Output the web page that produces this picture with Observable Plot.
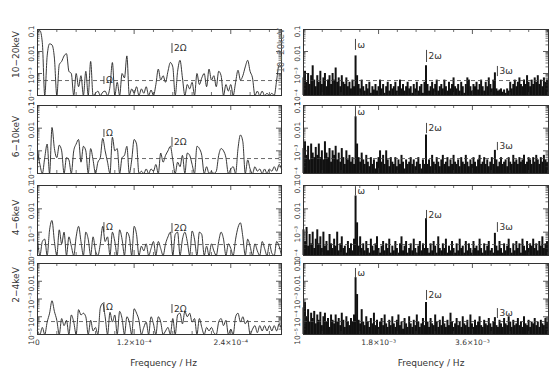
<!DOCTYPE html>
<html><head><meta charset="utf-8">
<script src="https://cdn.jsdelivr.net/npm/d3@7"></script>
<script src="https://cdn.jsdelivr.net/npm/@observablehq/plot@0.6"></script>
<style>
html,body{margin:0;padding:0;background:#fff;}
#chart{position:relative;width:550px;height:368px;overflow:hidden;font-family:"DejaVu Sans",sans-serif;}
#chart svg{position:absolute;overflow:visible;}
</style></head><body><div id="chart"></div>
<script>
// ---- energy bands (rows) ----
const bands = ["10−20keV", "6−10keV", "4−6keV", "2−4keV"];

// ---- low-frequency periodograms (left column), log10(power), step 3e-6 Hz from 0 ----
const dfLow = 3e-6;
const low_10_20 = [-1.15,-1.05,-1.6,-4.5,-2.2,-1.65,-1.7,-2.3,-4.5,-2.6,
 -2.45,-2.2,-2.1,-2.9,-3.0,-4.5,-3.0,-3.6,-3.1,-4.5,
 -2.9,-4.5,-2.45,-4.5,-3.9,-3.8,-4.3,-3.85,-3.8,-4.2,
 -3.6,-2.5,-4.5,-3.4,-4.5,-3.0,-3.2,-2.2,-4.5,-3.7,
 -3.9,-3.6,-4.3,-3.7,-3.9,-3.6,-4.2,-3.75,-4.0,-3.5,
 -2.8,-3.3,-3.1,-3.4,-2.9,-2.5,-2.7,-4.5,-2.9,-2.4,
 -3.2,-4.5,-3.5,-3.7,-3.4,-4.2,-3.0,-3.5,-3.2,-3.0,
 -3.6,-2.8,-3.3,-3.1,-3.6,-2.9,-3.1,-4.5,-3.5,-3.8,
 -3.5,-4.1,-3.4,-2.85,-3.3,-3.1,-2.7,-2.4,-2.9,-3.2,
 -4.5,-3.8,-4.2,-3.8,-4.1,-3.9,-4.2,-3.9,-4.3,-3.3,
 -2.6,-2.7];
const low_6_10 = [-3.0,-3.6,-4.5,-3.3,-2.7,-4.5,-1.97,-2.9,-3.3,-2.75,
 -3.0,-4.5,-3.3,-3.4,-4.5,-3.0,-2.7,-2.5,-3.5,-2.8,
 -3.0,-4.5,-2.9,-3.4,-4.5,-3.5,-3.3,-2.45,-3.0,-3.5,
 -4.5,-2.4,-3.0,-2.9,-4.5,-3.3,-3.2,-2.8,-4.5,-3.4,
 -2.5,-2.7,-4.5,-3.9,-4.1,-3.8,-4.0,-3.8,-3.9,-3.6,
 -4.2,-3.1,-3.5,-3.2,-3.0,-2.8,-3.4,-4.5,-3.5,-3.7,
 -3.2,-4.0,-3.1,-3.2,-3.6,-4.5,-2.8,-2.9,-3.2,-4.5,
 -3.7,-4.5,-3.9,-4.3,-3.9,-3.2,-2.9,-3.0,-3.3,-4.5,
 -3.8,-3.7,-4.2,-2.9,-2.3,-2.6,-4.5,-3.4,-3.8,-4.0,
 -3.7,-3.9,-3.8,-4.0,-3.8,-4.1,-3.8,-3.9,-3.7,-3.9,
 -3.6,-3.8];
const low_4_6 = [-3.3,-4.5,-3.4,-3.3,-4.5,-2.9,-2.5,-3.4,-4.5,-2.9,
 -3.5,-3.0,-4.5,-3.2,-3.6,-4.5,-3.2,-2.75,-3.4,-4.5,
 -3.0,-3.3,-4.5,-3.2,-3.8,-4.5,-3.5,-2.75,-3.4,-3.2,
 -4.5,-3.0,-3.4,-4.5,-2.9,-3.3,-4.5,-3.0,-3.2,-4.5,
 -2.75,-3.1,-4.5,-3.6,-3.8,-3.5,-4.5,-3.7,-3.4,-4.5,
 -3.4,-3.7,-4.5,-3.5,-3.2,-3.0,-4.5,-3.1,-3.0,-4.5,
 -3.3,-3.0,-3.4,-4.5,-2.95,-3.3,-4.5,-3.0,-3.1,-4.5,
 -3.6,-4.5,-3.5,-3.8,-4.5,-3.4,-3.0,-3.3,-4.5,-3.5,
 -3.7,-4.5,-3.3,-2.8,-2.6,-3.2,-4.5,-3.3,-3.6,-4.5,
 -3.5,-3.8,-4.5,-3.4,-3.7,-4.5,-3.5,-3.9,-4.5,-3.4,
 -3.6,-4.5];
const low_2_4 = [-4.8,-5.5,-4.6,-5.5,-4.3,-3.8,-3.1,-3.7,-4.2,-5.5,
 -4.1,-4.5,-4.2,-5.5,-3.9,-4.3,-5.5,-3.6,-3.9,-3.8,
 -4.0,-5.5,-4.2,-4.8,-4.6,-5.5,-3.5,-3.25,-4.0,-5.5,
 -3.75,-4.3,-3.9,-5.5,-3.7,-4.1,-5.5,-4.0,-4.3,-5.5,
 -3.55,-3.8,-4.2,-5.5,-4.6,-4.3,-5.5,-4.0,-4.4,-5.5,
 -4.0,-4.3,-5.5,-4.8,-4.6,-5.5,-4.1,-5.5,-3.9,-3.8,
 -4.4,-3.7,-4.0,-3.8,-4.3,-4.1,-5.5,-4.1,-4.6,-5.5,
 -4.6,-4.8,-4.6,-4.9,-5.5,-4.3,-4.1,-4.5,-4.2,-5.5,
 -4.7,-5.5,-4.0,-3.8,-4.3,-4.0,-4.4,-4.2,-5.5,-4.7,
 -4.5,-4.9,-4.5,-4.8,-4.5,-4.8,-4.5,-4.8,-4.5,-4.8,
 -4.4,-4.7];

// ---- high-frequency periodograms (right column), log10(power), step 2.9375e-5 Hz from 3.6e-4 ----
const f0High = 3.6e-4, dfHigh = 2.9375e-5;
const high_10_20 = [-3.2,-2.9,-3.4,-3.0,-3.5,-3.1,-2.65,-3.3,-3.6,-3.1,
 -3.4,-2.9,-3.5,-3.2,-3.0,-3.6,-3.3,-3.1,-3.5,-3.0,
 -3.3,-2.75,-3.4,-3.2,-3.6,-3.1,-3.4,-3.5,-3.2,-3.6,
 -3.4,-3.7,-3.3,-3.6,-2.2,-3.1,-3.5,-3.7,-3.3,-3.6,
 -3.8,-3.5,-3.7,-3.4,-3.9,-3.6,-3.75,-3.5,-3.8,-3.6,
 -3.3,-3.7,-3.5,-3.9,-3.6,-3.4,-3.8,-3.5,-3.7,-3.6,
 -3.4,-3.8,-3.6,-3.3,-3.7,-3.5,-3.8,-3.6,-3.4,-3.7,
 -3.6,-3.9,-3.5,-3.7,-3.4,-3.8,-3.6,-3.5,-3.9,-3.4,
 -2.65,-3.5,-3.8,-3.6,-3.4,-3.7,-3.5,-3.3,-3.8,-3.6,
 -3.5,-3.7,-3.3,-3.6,-3.8,-3.4,-3.7,-3.5,-3.2,-3.6,
 -3.7,-3.5,-3.8,-3.4,-3.6,-3.9,-3.5,-3.2,-3.3,-3.6,
 -3.8,-3.5,-3.6,-3.4,-3.75,-3.5,-3.3,-3.6,-3.8,-3.4,
 -3.6,-3.2,-3.5,-3.7,-3.3,-2.97,-3.7,-3.8,-3.75,-3.7,
 -3.85,-3.75,-3.9,-3.7,-3.8,-3.4,-3.7,-3.5,-3.3,-3.6,
 -3.4,-3.2,-3.5,-3.6,-3.3,-3.5,-3.1,-3.4,-3.6,-3.3,
 -3.5,-3.2,-3.4,-3.1,-3.5,-3.3,-3.6,-3.2,-3.4,-3.3];
const high_6_10 = [-2.9,-2.6,-3.2,-2.8,-3.4,-2.7,-3.1,-3.3,-2.85,-3.2,
 -2.7,-3.3,-3.0,-3.4,-2.6,-3.1,-3.3,-2.9,-3.5,-3.0,
 -3.2,-2.8,-3.4,-3.1,-3.5,-2.9,-3.3,-3.6,-3.0,-3.4,
 -3.2,-3.5,-3.3,-3.6,-1.5,-2.7,-3.3,-3.5,-3.1,-3.4,
 -3.6,-3.2,-3.5,-3.7,-3.3,-3.6,-3.4,-3.8,-3.5,-3.3,
 -3.0,-3.5,-3.2,-3.6,-3.0,-3.4,-3.7,-3.3,-3.5,-3.6,
 -3.3,-3.7,-3.4,-3.6,-3.2,-3.5,-3.8,-3.4,-3.6,-3.5,
 -3.3,-3.6,-3.4,-3.7,-3.5,-3.3,-3.6,-3.8,-3.4,-3.6,
 -2.3,-3.6,-3.4,-3.7,-3.2,-3.5,-3.6,-3.3,-3.5,-3.7,
 -3.4,-3.2,-3.6,-3.5,-3.3,-3.7,-3.4,-3.6,-3.2,-3.5,
 -3.6,-3.4,-3.7,-3.3,-3.5,-3.6,-3.2,-3.5,-3.7,-3.4,
 -3.6,-3.3,-3.5,-3.7,-3.4,-3.2,-3.6,-3.5,-3.3,-3.6,
 -3.4,-3.7,-3.5,-3.3,-3.6,-2.98,-3.4,-3.7,-3.5,-3.3,
 -3.6,-3.5,-3.4,-3.7,-3.3,-3.5,-3.6,-3.2,-3.5,-3.4,
 -3.6,-3.3,-3.5,-3.4,-3.2,-3.6,-3.5,-3.3,-3.4,-3.6,
 -3.3,-3.5,-3.2,-3.4,-3.6,-3.3,-3.5,-3.2,-3.4,-3.5];
const high_4_6 = [-2.9,-3.4,-2.8,-3.6,-3.1,-3.5,-3.0,-3.7,-3.3,-2.9,
 -3.5,-3.2,-3.7,-3.0,-3.6,-3.4,-3.8,-3.1,-3.5,-3.7,
 -3.3,-3.6,-3.0,-3.8,-3.5,-3.2,-3.7,-3.6,-3.9,-3.4,
 -3.7,-3.5,-3.8,-3.3,-1.45,-2.6,-3.6,-3.2,-3.7,-3.5,
 -3.8,-3.4,-3.7,-3.9,-3.3,-3.6,-3.8,-3.5,-3.2,-3.7,
 -3.9,-3.6,-3.4,-3.8,-3.5,-3.7,-3.3,-3.9,-3.6,-3.8,
 -3.4,-3.7,-3.9,-3.5,-3.2,-3.8,-3.6,-3.4,-3.9,-3.7,
 -3.5,-3.8,-3.3,-3.7,-3.9,-3.6,-3.4,-3.8,-3.5,-3.7,
 -2.42,-3.7,-3.9,-3.5,-3.8,-3.4,-3.6,-3.9,-3.2,-3.7,
 -3.8,-3.5,-3.7,-3.3,-3.9,-3.6,-3.8,-3.4,-3.7,-3.9,
 -3.5,-3.8,-3.3,-3.7,-3.6,-3.9,-3.4,-3.8,-3.5,-3.7,
 -3.9,-3.4,-3.7,-3.6,-3.8,-3.3,-3.7,-3.9,-3.5,-3.8,
 -3.6,-3.4,-3.8,-3.7,-3.9,-3.05,-3.6,-3.8,-3.4,-3.7,
 -3.9,-3.5,-3.8,-3.6,-3.3,-3.7,-3.9,-3.5,-3.8,-3.4,
 -3.7,-3.5,-3.9,-3.3,-3.6,-3.8,-3.4,-3.7,-3.5,-3.6,
 -3.3,-3.7,-3.5,-3.8,-3.4,-3.6,-3.2,-3.7,-3.5,-3.4];
const high_2_4 = [-3.5,-3.2,-4.0,-3.6,-4.3,-3.8,-4.1,-3.7,-4.4,-3.9,
 -4.2,-3.75,-4.5,-4.0,-3.8,-4.3,-4.1,-4.6,-3.9,-4.2,
 -4.4,-3.9,-4.3,-4.1,-4.5,-3.8,-4.2,-4.6,-4.0,-4.3,
 -4.5,-4.1,-4.3,-3.9,-1.8,-2.75,-4.2,-4.4,-3.6,-4.3,
 -4.5,-4.0,-4.3,-4.6,-4.1,-4.4,-3.8,-4.5,-4.2,-4.6,
 -4.3,-4.1,-4.5,-3.9,-4.4,-4.6,-4.2,-4.5,-4.0,-4.4,
 -4.6,-4.2,-3.9,-4.5,-4.3,-4.7,-4.1,-4.4,-4.6,-4.0,
 -4.4,-4.6,-4.2,-4.5,-3.9,-4.3,-4.6,-4.4,-4.1,-4.5,
 -3.2,-4.3,-4.6,-4.1,-4.4,-4.5,-3.9,-4.3,-4.6,-4.2,
 -4.5,-4.0,-4.4,-4.6,-4.2,-4.5,-3.8,-4.3,-4.6,-4.4,
 -4.1,-4.5,-4.3,-4.6,-4.0,-4.4,-4.5,-4.2,-4.6,-3.9,
 -4.4,-4.6,-4.2,-4.5,-4.3,-4.0,-4.5,-4.6,-4.2,-4.4,
 -4.5,-4.1,-4.4,-4.6,-4.3,-4.05,-4.5,-4.6,-4.2,-4.4,
 -4.6,-4.1,-4.4,-4.5,-4.0,-4.3,-4.6,-4.2,-4.5,-4.4,
 -4.1,-4.5,-4.3,-4.6,-4.0,-4.4,-4.5,-4.2,-4.6,-4.3,
 -4.4,-4.1,-4.5,-4.3,-4.6,-4.2,-4.4,-4.5,-4.1,-4.3];

const lowSeries = [low_10_20, low_6_10, low_4_6, low_2_4];
const highSeries = [high_10_20, high_6_10, high_4_6, high_2_4];

// dashed significance levels (log10 power) per band
const sigLevels = [-3.32, -3.34, -3.53, -4.27];

// y tick values / labels
const yTickVals3 = [1e-4, 1e-3, 0.01, 0.1];
const yTickLabels3 = ["10⁻⁴", "10⁻³", "0.01", "0.1"];
const yTickVals4 = [1e-5, 1e-4, 1e-3, 0.01, 0.1];
const yTickLabels4 = ["10⁻⁵", "10⁻⁴", "10⁻³", "0.01", "0.1"];

// x ticks
const xLowDomain = [0, 3.03e-4];
const xLowMajor = [0, 1.2e-4, 2.4e-4];
const xLowLabels = ["0", "1.2×10⁻⁴", "2.4×10⁻⁴"];
const xLowMinorStep = 2.4e-5;
const xHighDomain = [3.6e-4, 5.06e-3];
const xHighMajor = [1.8e-3, 3.6e-3];
const xHighLabels = ["1.8×10⁻³", "3.6×10⁻³"];
const xHighMinorStep = 3.6e-4;
const xTitle = "Frequency / Hz";

// harmonic markers: frequency, label, [lo, hi] log10 power per band
const lowHarm = [
  {f: 0.825e-4, label: "Ω", spans: [[-3.5,-3.14],[-2.41,-2.06],[-3.01,-2.59],[-3.76,-3.2]]},
  {f: 1.67e-4, label: "2Ω", spans: [[-2.09,-1.64],[-2.85,-2.41],[-3.06,-2.63],[-3.82,-3.31]]}
];
const highHarm = [
  {f: 1.357e-3, label: "ω", spans: [[-1.95,-1.45],[-1.55,-1.05],[-1.45,-1.05],[-1.85,-1.28]]},
  {f: 2.72e-3, label: "2ω", spans: [[-2.5,-1.95],[-2.24,-1.79],[-2.5,-2.07],[-3.08,-2.52]]},
  {f: 4.08e-3, label: "3ω", spans: [[-3.14,-2.68],[-2.99,-2.63],[-3.01,-2.59],[-4.1,-3.54]]}
];

// ---- layout ----
const rowFrames = [[29,95],[105,173],[185,255],[263,334]];
const colFrames = [[37,281],[303,548]];
const bandLabelDy = [-8, -3, -3, -14];

const chart = document.getElementById("chart");
const ink = "#333";

function panel(row, col) {
  const [t, b] = rowFrames[row];
  const [l, r] = colFrames[col];
  const fw = r - l, fh = b - t;
  const ml = 45, mr = 12, mt = 8, mb = row === 3 ? 40 : 8;
  const yDomain = row === 3 ? [1e-5, 0.1] : [1e-4, 0.1];
  const yVals = row === 3 ? yTickVals4 : yTickVals3;
  const yLabs = row === 3 ? yTickLabels4 : yTickLabels3;
  const yMinor = [];
  for (let e = Math.log10(yDomain[0]); e < -1; e++) for (let m = 2; m <= 9; m++) yMinor.push(m * Math.pow(10, e));
  const xDomain = col === 0 ? xLowDomain : xHighDomain;
  const xMajor = col === 0 ? xLowMajor : xHighMajor;
  const xLabs = col === 0 ? xLowLabels : xHighLabels;
  const step = col === 0 ? xLowMinorStep : xHighMinorStep;
  const start = col === 0 ? 0 : xHighMinorStep;
  const xMinor = d3.range(start, xDomain[1] + 1e-12, step).filter(v => !xMajor.some(m => Math.abs(m - v) < step / 10));

  const marks = [];
  if (col === 0) {
    const data = lowSeries[row].map((v, i) => ({f: i * dfLow, p: Math.pow(10, v)}));
    marks.push(Plot.line(data, {x: "f", y: "p", stroke: "#222", strokeWidth: 0.9, curve: "monotone-x"}));
  } else {
    const data = highSeries[row].map((v, i) => ({f: f0High + i * dfHigh, p: Math.pow(10, v)}));
    marks.push(Plot.ruleX(data, {x: "f", y1: 1e-9, y2: "p", stroke: "#111", strokeWidth: 2}));
  }
  marks.push(Plot.ruleY([Math.pow(10, sigLevels[row])], {stroke: "#444", strokeWidth: 0.8, strokeDasharray: "4,3"}));

  // harmonic markers
  const harm = col === 0 ? lowHarm : highHarm;
  const hData = harm.map(h => ({f: h.f, lo: Math.pow(10, h.spans[row][0]), hi: Math.pow(10, h.spans[row][1]),
    mid: Math.pow(10, (h.spans[row][0] + h.spans[row][1]) / 2), label: h.label}));
  marks.push(Plot.ruleX(hData, {x: "f", y1: "lo", y2: "hi", stroke: ink, strokeWidth: 0.9}));
  marks.push(Plot.text(hData, {x: "f", y: "mid", text: "label", dx: 2, textAnchor: "start", fill: ink, fontSize: 9}));

  // frame & inward ticks
  marks.push(Plot.frame({stroke: ink, strokeWidth: 1}));
  marks.push(Plot.tickY(yVals, {y: d => d, insetRight: fw - 5, stroke: ink, strokeWidth: 0.8}));
  marks.push(Plot.tickY(yVals, {y: d => d, insetLeft: fw - 5, stroke: ink, strokeWidth: 0.8}));
  marks.push(Plot.tickY(yMinor, {y: d => d, insetRight: fw - 2.5, stroke: ink, strokeWidth: 0.7}));
  marks.push(Plot.tickY(yMinor, {y: d => d, insetLeft: fw - 2.5, stroke: ink, strokeWidth: 0.7}));
  marks.push(Plot.tickX(xMajor, {x: d => d, insetBottom: fh - 5, stroke: ink, strokeWidth: 0.8}));
  marks.push(Plot.tickX(xMajor, {x: d => d, insetTop: fh - 5, stroke: ink, strokeWidth: 0.8}));
  marks.push(Plot.tickX(xMinor, {x: d => d, insetBottom: fh - 3, stroke: ink, strokeWidth: 0.7}));
  marks.push(Plot.tickX(xMinor, {x: d => d, insetTop: fh - 3, stroke: ink, strokeWidth: 0.7}));

  // y tick labels (rotated)
  marks.push(Plot.text(yVals, {y: d => d, text: (d, i) => yLabs[i], frameAnchor: "left", dx: -4, dy: 2,
    rotate: -90, textAnchor: "middle", lineAnchor: "bottom", fill: ink, fontSize: 7.5}));

  // band label
  if (col === 0) {
    marks.push(Plot.text([bands[row]], {text: d => d, frameAnchor: "left", dx: -21, dy: bandLabelDy[row],
      rotate: -90, textAnchor: "middle", lineAnchor: "middle", fill: ink, fontSize: 9}));
  } else if (row === 0) {
    marks.push(Plot.text([bands[row]], {text: d => d, frameAnchor: "left", dx: -22, dy: -12,
      rotate: -90, textAnchor: "middle", lineAnchor: "middle", fill: "#666", fontSize: 8.5}));
  }

  // x labels on the bottom row
  if (row === 3) {
    marks.push(Plot.text(xMajor, {x: d => d, text: (d, i) => xLabs[i], frameAnchor: "bottom", dy: 8,
      lineAnchor: "middle", fill: ink, fontSize: 7.5}));
    marks.push(Plot.text([xTitle], {text: d => d, frameAnchor: "bottom", dy: 29, dx: col === 0 ? 4 : 5,
      lineAnchor: "middle", fill: ink, fontSize: 9}));
  }

  const svg = Plot.plot({
    width: fw + ml + mr, height: fh + mt + mb,
    marginLeft: ml, marginRight: mr, marginTop: mt, marginBottom: mb,
    x: {domain: xDomain, axis: null},
    y: {type: "log", domain: yDomain, axis: null, clamp: true},
    style: {overflow: "visible", background: "transparent", fontFamily: "'DejaVu Sans', sans-serif"},
    marks
  });
  svg.style.left = (l - ml) + "px";
  svg.style.top = (t - mt) + "px";
  chart.appendChild(svg);
}

for (let row = 0; row < 4; row++) for (let col = 0; col < 2; col++) panel(row, col);
</script>
</body></html>
